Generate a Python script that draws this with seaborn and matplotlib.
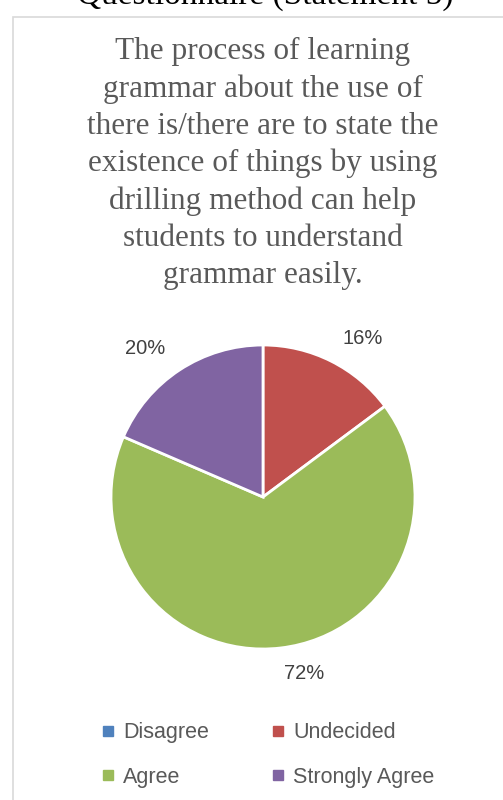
import matplotlib.pyplot as plt
import seaborn as sns
from matplotlib.lines import Line2D
from matplotlib.patches import Rectangle

categories = ['Disagree', 'Undecided', 'Agree', 'Strongly Agree']
values = [0, 16, 72, 20]
pct_labels = ['', '16%', '72%', '20%']
colors = ['#4F81BD', '#C0504D', '#9BBB59', '#8064A2']

title = ('The process of learning\ngrammar about the use of\nthere is/there are to state the\n'
         'existence of things by using\ndrilling method can help\nstudents to understand\ngrammar easily.')

sns.set_theme(style='white')
plt.rcParams['font.family'] = ['Liberation Sans', 'DejaVu Sans']

W, H = 503, 800
fig = plt.figure(figsize=(W / 100, H / 100), dpi=100)
fig.patch.set_facecolor('white')

# chart area border (partly cut off at right and bottom)
fig.patches.append(Rectangle((13 / W, -0.1), 1.2, (800 - 17) / H + 0.1, transform=fig.transFigure,
                             fill=False, edgecolor='#D9D9D9', linewidth=1.2))

# clipped heading from the page above
fig.text(265 / W, 1 - 4 / H, 'Questionnaire (Statement 5)', ha='center', va='baseline',
         fontsize=24, family=['Liberation Serif'], color='black')

fig.text(263 / W, 1 - 37 / H, title, ha='center', va='top', fontsize=22.5,
         family=['Liberation Serif'], color='#595959', linespacing=1.36)

cx, cy, r = 263, 497, 152
ax = fig.add_axes([(cx - r) / W, (H - cy - r) / H, 2 * r / W, 2 * r / H])
wedges, texts = ax.pie(values, labels=pct_labels, colors=colors, startangle=90,
                       counterclock=False, labeldistance=1.17,
                       wedgeprops=dict(edgecolor='white', linewidth=2),
                       textprops=dict(fontsize=14.5, color='#404040'))
ax.set_xlim(-1, 1)
ax.set_ylim(-1, 1)
ax.axis('off')

# legend fills column-wise, so reorder to read row-wise like the reference
order = [0, 2, 1, 3]
handles = [Line2D([0], [0], marker='s', linestyle='none', markersize=7,
                  markerfacecolor=colors[i], markeredgecolor=colors[i]) for i in order]
fig.legend(handles, [categories[i] for i in order], loc='center',
           bbox_to_anchor=(267 / W, 1 - 755 / H), ncol=2,
           frameon=False, fontsize=15.5, labelcolor='#595959', handletextpad=0.3,
           columnspacing=2.8, labelspacing=1.1, handlelength=0.8)

fig.savefig('out.png', dpi=100)
